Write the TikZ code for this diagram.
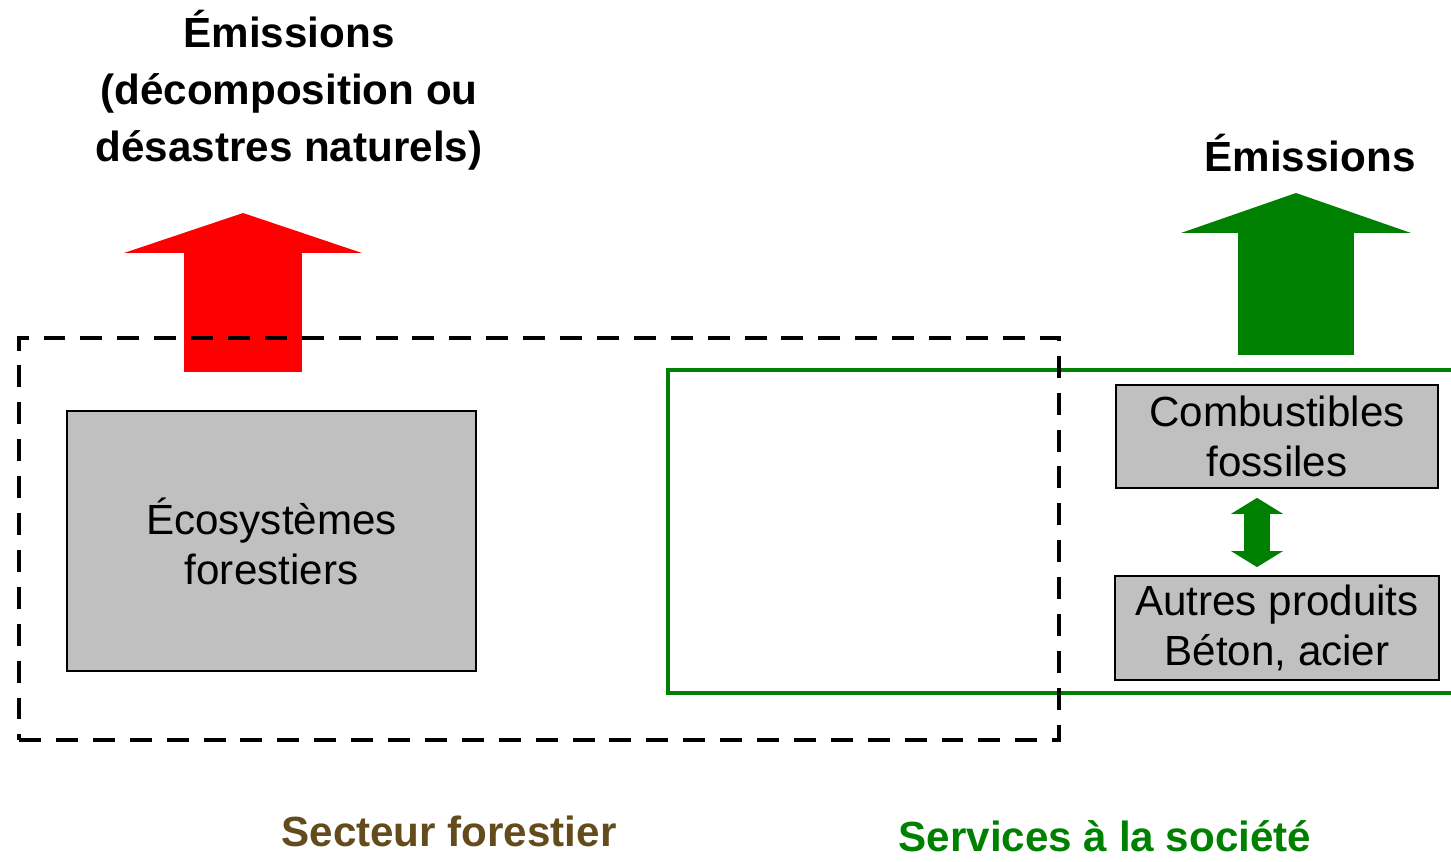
\documentclass[tikz,border=0pt]{standalone}
\usepackage{fontspec}
\setmainfont{Liberation Sans}
\usepackage{tikz}
\usetikzlibrary{arrows.meta,positioning}
\definecolor{ecogreen}{RGB}{0,128,0}
\definecolor{ecobrown}{RGB}{99,75,28}
\definecolor{boxgray}{RGB}{192,192,192}
\tikzstyle{block} = [rectangle, draw, fill=boxgray, line width=1pt, align=center, inner sep=2pt, font=\fontsize{24}{28.5}\selectfont]
\tikzstyle{title} = [align=center, inner sep=0pt, font=\fontsize{24}{32.3}\selectfont\bfseries]
\tikzstyle{sectname} = [inner sep=0pt, font=\fontsize{24}{28}\selectfont\bfseries]
\tikzstyle{frame} = [rectangle, draw, line width=2.3pt, inner sep=0pt]
\tikzstyle{fatred} = [draw=red, line width=2.36cm, -{Triangle[width=4.76cm,length=0.8cm,line width=0pt]}]
\tikzstyle{fatgreen} = [draw=ecogreen, line width=2.32cm, -{Triangle[width=4.6cm,length=0.8cm,line width=0pt]}]
\tikzstyle{twoway} = [draw=ecogreen, line width=0.52cm, {Triangle[width=1.04cm,length=0.32cm,line width=0pt]}-{Triangle[width=1.04cm,length=0.32cm,line width=0pt]}]

\begin{document}
\begin{tikzpicture}[x=0.02cm, y=-0.02cm, node distance=3.83cm]
	\useasboundingbox (0,0) rectangle (1451,862);
	\node[frame, draw=ecogreen, minimum width=16.04cm, minimum height=6.46cm] (services) at (1069,531.5) {};
	\coordinate (redfoot) at (243,372);
	\coordinate (redtip) at (243,213);
	\draw[fatred] (redfoot) -- (redtip);
	\node[frame, dash pattern=on 12.5pt off 8.5pt, minimum width=20.8cm, minimum height=8.04cm] (foret) at (539,539) {};
	\node[block, minimum width=8.18cm, minimum height=5.2cm] (eco) at (271.5,541) {Écosystèmes\\forestiers};
	\node[block, minimum width=6.44cm, minimum height=2.06cm] (fossile) at (1277,436.5) {Combustibles\\fossiles};
	\node[block, below of=fossile, minimum width=6.48cm, minimum height=2.08cm] (autres) {Autres produits\\Béton, acier};
	\node[title] (emisforet) at (289,90) {Émissions\\(décomposition ou\\désastres naturels)};
	\node[title] (emissoc) at (1310,153) {Émissions};
	\coordinate (greenfoot) at (1296,355);
	\coordinate (greentip) at (1296,193);
	\draw[fatgreen] (greenfoot) -- (greentip);
	\draw[twoway] ([xshift=-0.4cm,yshift=-0.18cm]fossile.south) -- ([xshift=-0.4cm,yshift=0.16cm]autres.north);
	\node[sectname, text=ecobrown] (labforet) at (449,831) {Secteur forestier};
	\node[sectname, text=ecogreen] (labsoc) at (1105,836) {Services à la société};
\end{tikzpicture}
\end{document}
